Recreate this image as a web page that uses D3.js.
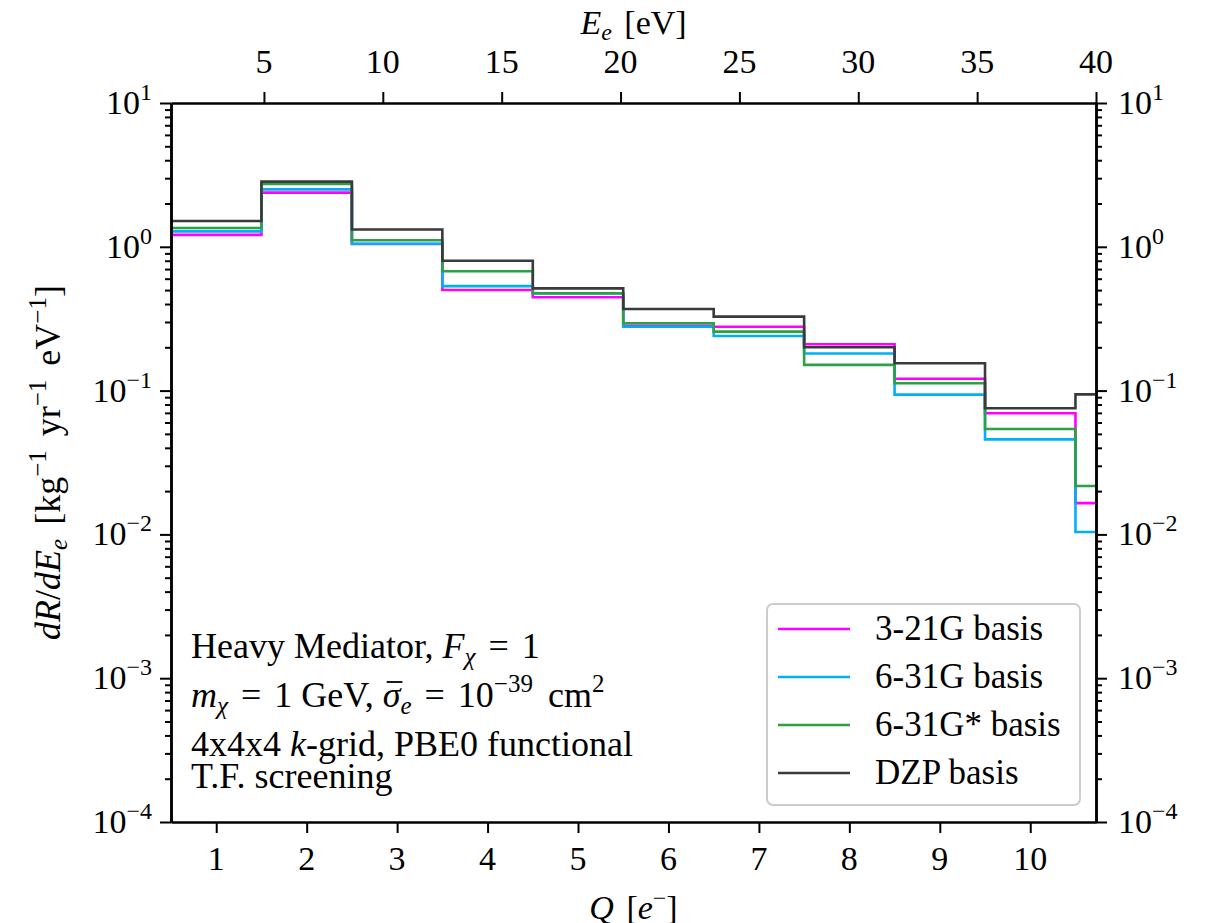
<!DOCTYPE html>
<html>
<head>
<meta charset="utf-8">
<script src="https://cdn.jsdelivr.net/npm/d3@7"></script>
<style>
  html, body { margin: 0; padding: 0; background: #fff; }
  svg { display: block; }
</style>
</head>
<body>
<svg id="chart" width="1212" height="923"></svg>
<script>
// ---- data ----
const qValues = [1, 2, 3, 4, 5, 6, 7, 8, 9, 10, 11];
const rate321G   = [1.21, 2.38, 1.045, 0.501, 0.446, 0.282, 0.278, 0.210, 0.121, 0.0695, 0.0165];
const rate631G   = [1.28, 2.51, 1.05, 0.533, 0.474, 0.278, 0.240, 0.181, 0.0937, 0.0458, 0.0104];
const rate631Gs  = [1.35, 2.74, 1.11, 0.676, 0.475, 0.294, 0.257, 0.151, 0.1125, 0.0541, 0.0217];
const rateDZP    = [1.51, 2.84, 1.32, 0.80, 0.514, 0.369, 0.327, 0.200, 0.155, 0.0753, 0.0942];
const seriesNames = ["3-21G basis", "6-31G basis", "6-31G* basis", "DZP basis"];
const seriesColors = ["#ff00ff", "#00b0f6", "#2ca044", "#3a3a3a"];
const qTicks = [1, 2, 3, 4, 5, 6, 7, 8, 9, 10];
const eTicks = [5, 10, 15, 20, 25, 30, 35, 40];
const yDecades = [-4, -3, -2, -1, 0, 1];

const FONT = "'Liberation Serif', 'Times New Roman', Tinos, 'DejaVu Serif', 'Noto Serif', serif";
const svg = d3.select("#chart").attr("font-family", FONT);
const L = 171, R = 1096, T = 103, B = 822;
const FS = 34;

const x = d3.scaleLinear().domain([0.5, 10.727]).range([L, R]);
const xE = d3.scaleLinear().domain([1.09, 40]).range([L, R]);
const y = d3.scaleLog().domain([1e-4, 10]).range([B, T]);

function txt(xp, yp, fs) {
  return svg.append("text").attr("x", xp).attr("y", yp)
    .attr("font-family", FONT).attr("font-size", fs || FS).attr("fill", "#000");
}

// clip
svg.append("clipPath").attr("id", "clip")
  .append("rect").attr("x", L).attr("y", T).attr("width", R - L).attr("height", B - T);

// series lines
const allSeries = [rate321G, rate631G, rate631Gs, rateDZP];
const line = d3.line().x(d => x(d[0])).y(d => y(d[1])).curve(d3.curveStepAfter);
const gLines = svg.append("g").attr("clip-path", "url(#clip)");
allSeries.forEach((vals, i) => {
  const pts = qValues.map((q, j) => [q - 0.5, vals[j]]);
  pts.push([x.domain()[1], vals[vals.length - 1]]);
  gLines.append("path").datum(pts)
    .attr("d", line)
    .attr("fill", "none")
    .attr("stroke", seriesColors[i])
    .attr("stroke-width", 2.6)
    .attr("stroke-linejoin", "miter");
});

// axes
function styleAxis(g) {
  g.selectAll(".domain").attr("stroke", "#000").attr("stroke-width", 2.5);
  g.selectAll(".tick line").attr("stroke", "#000").attr("stroke-width", 2);
  g.selectAll(".tick text").remove();
}
const gB = svg.append("g").attr("transform", `translate(0,${B})`)
  .call(d3.axisBottom(x).tickValues(qTicks).tickSize(11).tickSizeOuter(0));
styleAxis(gB);
qTicks.forEach(q => {
  txt(x(q), 870).attr("text-anchor", "middle").text(q);
});
const gT = svg.append("g").attr("transform", `translate(0,${T})`)
  .call(d3.axisTop(xE).tickValues(eTicks).tickSize(11).tickSizeOuter(0));
styleAxis(gT);
eTicks.forEach(e => {
  txt(xE(e), 73).attr("text-anchor", "middle").text(e);
});
const minorVals = [];
for (let d = -4; d < 1; d++) for (let m = 2; m <= 9; m++) minorVals.push(m * Math.pow(10, d));
const majorVals = yDecades.map(d => Math.pow(10, d));

const gL = svg.append("g").attr("transform", `translate(${L},0)`)
  .call(d3.axisLeft(y).tickValues(majorVals).tickSize(11).tickSizeOuter(0));
styleAxis(gL);
const gLm = svg.append("g").attr("transform", `translate(${L},0)`)
  .call(d3.axisLeft(y).tickValues(minorVals).tickSize(6).tickSizeOuter(0));
styleAxis(gLm);
const gR = svg.append("g").attr("transform", `translate(${R},0)`)
  .call(d3.axisRight(y).tickValues(majorVals).tickSize(11).tickSizeOuter(0));
styleAxis(gR);
const gRm = svg.append("g").attr("transform", `translate(${R},0)`)
  .call(d3.axisRight(y).tickValues(minorVals).tickSize(6).tickSizeOuter(0));
styleAxis(gRm);

function expLabel(xPos, yPos, exp, anchor) {
  const t = txt(xPos, yPos + 11).attr("text-anchor", anchor);
  t.append("tspan").text("10");
  t.append("tspan").attr("font-size", 24).attr("dy", -14)
    .text(exp < 0 ? "\u2212" + Math.abs(exp) : String(exp));
}
yDecades.forEach(d => {
  expLabel(152, y(Math.pow(10, d)), d, "end");
  expLabel(1118, y(Math.pow(10, d)), d, "start");
});

// axis labels
const tl = txt((L + R) / 2, 34).attr("text-anchor", "middle");
tl.append("tspan").attr("font-style", "italic").text("E");
tl.append("tspan").attr("font-style", "italic").attr("font-size", 24).attr("dy", 6).text("e");
tl.append("tspan").attr("dy", -6).attr("dx", 4).text(" [eV]");

const bl = txt((L + R) / 2, 919).attr("text-anchor", "middle");
bl.append("tspan").attr("font-style", "italic").text("Q");
bl.append("tspan").attr("dx", 4).text(" [");
bl.append("tspan").attr("font-style", "italic").text("e");
bl.append("tspan").attr("font-size", 24).attr("dy", -13).text("\u2212");
bl.append("tspan").attr("dy", 13).text("]");

const yl = svg.append("text")
  .attr("transform", `translate(60,${(T + B) / 2}) rotate(-90)`)
  .attr("text-anchor", "middle").attr("font-family", FONT).attr("font-size", 36).attr("fill", "#000");
yl.append("tspan").attr("font-style", "italic").text("dR");
yl.append("tspan").text("/");
yl.append("tspan").attr("font-style", "italic").text("dE");
yl.append("tspan").attr("font-style", "italic").attr("font-size", 25).attr("dy", 7).text("e");
yl.append("tspan").attr("dy", -7).attr("dx", 5).text(" [kg");
yl.append("tspan").attr("font-size", 25).attr("dy", -14).text("\u22121");
yl.append("tspan").attr("dy", 14).attr("dx", 5).text(" yr");
yl.append("tspan").attr("font-size", 25).attr("dy", -14).text("\u22121");
yl.append("tspan").attr("dy", 14).attr("dx", 5).text(" eV");
yl.append("tspan").attr("font-size", 25).attr("dy", -14).text("\u22121");
yl.append("tspan").attr("dy", 14).text("]");

// annotation text
const AF = 36;
const a1 = txt(191, 658, AF);
a1.append("tspan").text("Heavy Mediator, ");
a1.append("tspan").attr("font-style", "italic").text("F");
a1.append("tspan").attr("font-style", "italic").attr("font-size", 25).attr("dy", 7).text("\u03c7");
a1.append("tspan").attr("dy", -7).attr("dx", 4).text(" = ");
a1.append("tspan").attr("dx", 4).text("1");

const a2 = txt(191, 707, AF);
a2.append("tspan").attr("font-style", "italic").text("m");
a2.append("tspan").attr("font-style", "italic").attr("font-size", 25).attr("dy", 7).text("\u03c7");
a2.append("tspan").attr("dy", -7).attr("dx", 4).text(" = ");
a2.append("tspan").attr("dx", 4).text("1 GeV, ");
const sig = a2.append("tspan").attr("font-style", "italic").text("\u03c3");
a2.append("tspan").attr("font-style", "italic").attr("font-size", 25).attr("dy", 7).text("e");
a2.append("tspan").attr("dy", -7).attr("dx", 4).text(" = ");
a2.append("tspan").attr("dx", 4).text("10");
a2.append("tspan").attr("font-size", 25).attr("dy", -15).text("\u221239");
a2.append("tspan").attr("dy", 15).attr("dx", 6).text(" cm");
a2.append("tspan").attr("font-size", 25).attr("dy", -15).text("2");
// bar over sigma
try {
  const full = a2.node().textContent;
  const idx = full.indexOf("\u03c3");
  const p0 = a2.node().getStartPositionOfChar(idx);
  const p1 = a2.node().getEndPositionOfChar(idx);
  svg.append("line").attr("x1", p0.x + 4).attr("x2", p1.x + 2)
    .attr("y1", 707 - 25).attr("y2", 707 - 25)
    .attr("stroke", "#000").attr("stroke-width", 1.8);
} catch (e) {}

const a3 = txt(191, 756, AF);
a3.append("tspan").text("4x4x4 ");
a3.append("tspan").attr("font-style", "italic").text("k");
a3.append("tspan").text("-grid, PBE0 functional");

txt(191, 788, AF).text("T.F. screening");

// legend
const lg = svg.append("g");
lg.append("rect").attr("x", 767).attr("y", 604).attr("width", 313).attr("height", 201)
  .attr("rx", 6).attr("fill", "#fff").attr("fill-opacity", 0.8)
  .attr("stroke", "#cccccc").attr("stroke-width", 2);
const legY = [629, 677, 725, 773];
seriesNames.forEach((name, i) => {
  lg.append("line").attr("x1", 778).attr("x2", 850).attr("y1", legY[i]).attr("y2", legY[i])
    .attr("stroke", seriesColors[i]).attr("stroke-width", 2.6);
  txt(875, legY[i] + 11, 35).text(name);
});
</script>
</body>
</html>
